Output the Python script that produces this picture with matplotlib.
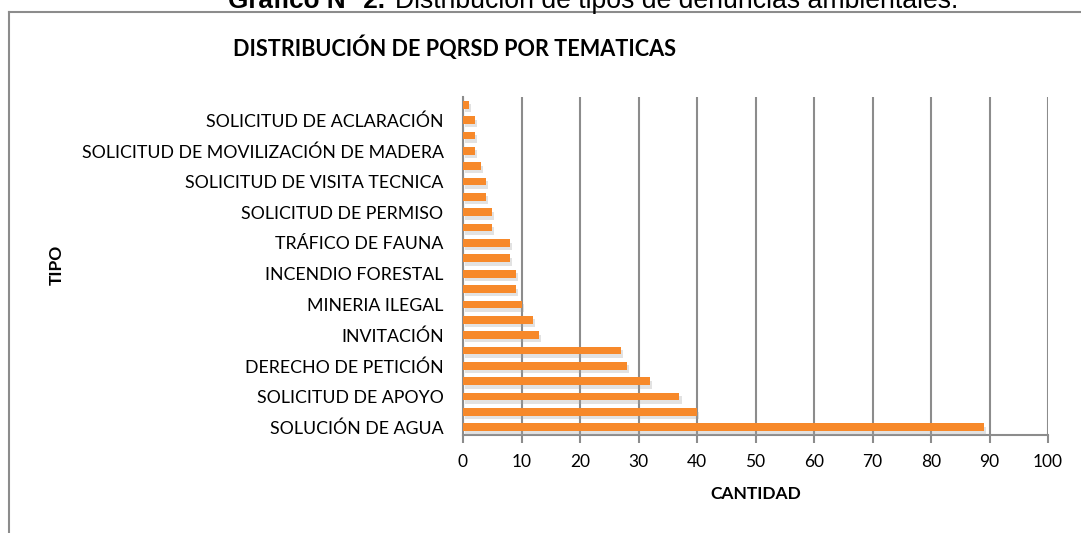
import matplotlib
matplotlib.use("Agg")
import matplotlib.pyplot as plt
import matplotlib.patheffects as pe
from matplotlib.lines import Line2D
import numpy as np

# Categories from bottom to top (only every other label is shown in the original chart)
labels = ["SOLUCIÓN DE AGUA", "", "SOLICITUD DE APOYO", "", "DERECHO DE PETICIÓN", "",
          "INVITACIÓN", "", "MINERIA ILEGAL", "", "INCENDIO FORESTAL", "",
          "TRÁFICO DE FAUNA", "", "SOLICITUD DE PERMISO", "", "SOLICITUD DE VISITA TECNICA", "",
          "SOLICITUD DE MOVILIZACIÓN DE MADERA", "", "SOLICITUD DE ACLARACIÓN", ""]
values = [89, 40, 37, 32, 28, 27, 13, 12, 10, 9, 9, 8, 8, 5, 5, 4, 4, 3, 2, 2, 2, 1]
xticks = [0, 10, 20, 30, 40, 50, 60, 70, 80, 90, 100]

plt.rcParams['font.family'] = ['Lato', 'DejaVu Sans']

W, H = 1081, 533
fig = plt.figure(figsize=(W / 100, H / 100), dpi=100)
fig.patch.set_facecolor('white')

# outer frame (top and left lines)
fig.add_artist(Line2D([9 / W, 1.0], [1 - 12 / H, 1 - 12 / H], color='#8c8c8c', lw=1.5,
                      transform=fig.transFigure))
fig.add_artist(Line2D([9 / W, 9 / W], [0, 1 - 12 / H], color='#8c8c8c', lw=1.5,
                      transform=fig.transFigure))

# caption partially cut at the top (as in the reference)
renderer = fig.canvas.get_renderer()
def fit_text(x0, width_px, s, size, **kw):
    t = fig.text(x0 / W, 1 - 8 / H, s, ha='left', va='baseline', fontsize=size,
                 family='Liberation Sans', **kw)
    w = t.get_window_extent(renderer).width
    t.set_fontsize(size * width_px / w)
    return t

fit_text(228, 157, "Gráfico N° 2.", 18, fontweight='bold')
fit_text(395, 563, "Distribución de tipos de denuncias ambientales.", 18)

ax = fig.add_axes([463 / W, 1 - 435 / H, (1048 - 463) / W, (435 - 97) / H])
y = np.arange(len(values))
bars = ax.barh(y, values, height=0.5, color='#F7892A', edgecolor='none', zorder=3)
for b in bars:
    b.set_path_effects([pe.SimplePatchShadow(offset=(1.5, -2.5), shadow_rgbFace='#a0a0a0', alpha=0.3),
                        pe.Normal()])

ax.set_xlim(0, 100)
ax.set_ylim(-0.5, len(values) - 0.5)
ax.set_xticks(xticks)
ax.set_xticklabels([str(v) for v in xticks], fontsize=12.5)
ax.set_yticks(y)
ax.set_yticklabels(labels, fontsize=12.8)
ax.tick_params(axis='y', length=0, pad=14)
ax.tick_params(axis='x', length=6, width=1.5, color='#8c8c8c', pad=8)
ax.grid(axis='x', color='#8c8c8c', lw=1.5, zorder=0)
ax.set_axisbelow(True)
for s in ['top', 'right']:
    ax.spines[s].set_visible(False)
for s in ['left', 'bottom']:
    ax.spines[s].set_color('#8c8c8c')
    ax.spines[s].set_linewidth(1.5)

ax.set_xlabel("CANTIDAD", fontsize=12.5, fontweight='bold', labelpad=11)
fig.text(57 / W, 1 - 265 / H, "TIPO", rotation=90, ha='center', va='center',
         fontsize=12.5, fontweight='bold')
fig.text(233 / W, 1 - 48 / H, "DISTRIBUCIÓN DE PQRSD POR TEMATICAS", ha='left', va='center',
         fontsize=15.6, fontweight='bold')

fig.savefig("out.png", dpi=100)
